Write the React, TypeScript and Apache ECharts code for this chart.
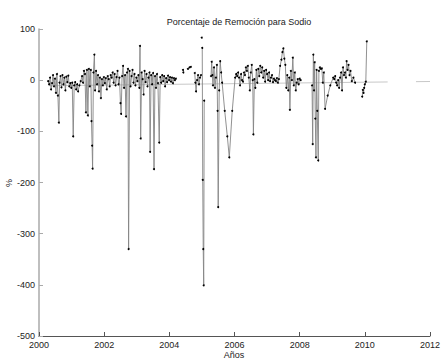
import React, { useEffect, useRef } from "react";
import * as echarts from "echarts";

const titulo = "Porcentaje de Remoción para Sodio";
const nombreX = "Años";
const nombreY = "%";
const xTicks = [2000, 2012, 2];
const yTicks = [-500, 100, 100];

// [año decimal, % remoción]  (null = sin dato)
const muestras: [number, number | null][] = [
  [2000.28, -2], [2000.31, -8], [2000.34, 5], [2000.37, -18], [2000.40, -6], [2000.43, 10], [2000.46, -12], [2000.49, 3],
  [2000.52, -25], [2000.55, 12], [2000.58, -30], [2000.61, -83], [2000.63, -5], [2000.66, 8], [2000.69, -14], [2000.72, 10],
  [2000.75, -8], [2000.78, 5], [2000.81, -20], [2000.84, 7], [2000.87, -4], [2000.90, 9], [2000.93, -12], [2000.96, -6],
  [2000.99, -15], [2001.02, -5], [2001.05, -110], [2001.08, -10], [2001.11, -4], [2001.14, -18], [2001.17, -8], [2001.20, -22],
  [2001.24, -10], [2001.28, -2], [2001.32, 8], [2001.35, -5], [2001.38, 18], [2001.41, 12], [2001.44, -63], [2001.47, 20],
  [2001.50, -69], [2001.53, 22], [2001.56, -12], [2001.59, 20], [2001.61, -80], [2001.63, -128], [2001.645, -173], [2001.67, 15],
  [2001.70, 50], [2001.72, -20], [2001.75, 18], [2001.78, -8], [2001.81, 10], [2001.84, -22], [2001.87, 5], [2001.90, -35],
  [2001.93, 2], [2001.96, -10], [2001.99, 6], [2002.02, -6], [2002.05, 4], [2002.08, -18], [2002.11, 8], [2002.14, 2],
  [2002.17, -12], [2002.20, 10], [2002.23, 5], [2002.26, 15], [2002.29, -5], [2002.32, 12], [2002.35, -10], [2002.38, 6],
  [2002.41, 18], [2002.44, -8], [2002.47, 5], [2002.50, -45], [2002.52, -66], [2002.55, 8], [2002.58, 28], [2002.61, -15],
  [2002.64, 10], [2002.67, -71], [2002.70, 15], [2002.73, 22], [2002.75, -330], [2002.78, 18], [2002.81, -12], [2002.84, 8],
  [2002.87, 20], [2002.90, -5], [2002.93, 12], [2002.96, -10], [2002.99, 5], [2003.02, -2], [2003.05, 10], [2003.08, -15],
  [2003.10, 67], [2003.12, -114], [2003.15, 15], [2003.18, 2], [2003.21, -28], [2003.24, 18], [2003.27, -4], [2003.30, 12],
  [2003.33, -12], [2003.36, 5], [2003.39, 15], [2003.41, -140], [2003.44, 10], [2003.47, -8], [2003.50, 14], [2003.53, -174],
  [2003.56, 8], [2003.59, -15], [2003.62, 12], [2003.65, -6], [2003.69, -122], [2003.72, 6], [2003.75, -5], [2003.78, 10],
  [2003.81, -2], [2003.84, 8], [2003.87, -12], [2003.90, 4], [2003.93, -4], [2003.96, 9], [2003.99, 0], [2004.02, 6],
  [2004.05, -3], [2004.08, 5], [2004.11, -6], [2004.14, 4], [2004.17, 0], [2004.20, 3], [2004.30, null],
  [2004.42, 20], [2004.43, 15], [2004.50, null], [2004.57, 22], [2004.62, 25], [2004.66, 26], [2004.70, null],
  [2004.78, 14], [2004.80, -5], [2004.82, -22], [2004.85, 0], [2004.88, 10], [2004.91, -8], [2004.94, 5], [2004.97, 10],
  [2004.985, null], [2004.995, 83], [2005.0, null],
  [2005.01, 63], [2005.025, -195], [2005.04, -330], [2005.055, -401], [2005.07, -40], [2005.15, null],
  [2005.28, 8], [2005.30, 36], [2005.32, 10], [2005.34, -10], [2005.37, 25], [2005.40, -15], [2005.43, 5], [2005.46, 30],
  [2005.48, -60], [2005.50, -248], [2005.53, -20], [2005.56, 37], [2005.59, 15], [2005.62, -5], [2005.70, -60], [2005.78, -110],
  [2005.84, -151], [2005.93, -60], [2006.02, 5], [2006.05, 12], [2006.08, 8], [2006.11, 15], [2006.14, 5], [2006.17, -10],
  [2006.20, 12], [2006.23, 0], [2006.26, -3], [2006.29, 15], [2006.32, 10], [2006.35, 25], [2006.38, 18], [2006.41, 28],
  [2006.44, 5], [2006.47, -20], [2006.50, 15], [2006.53, 30], [2006.56, 0], [2006.58, -106], [2006.61, 2], [2006.64, -15],
  [2006.67, 20], [2006.70, -5], [2006.73, 22], [2006.76, 8], [2006.79, 28], [2006.82, 15], [2006.85, 25], [2006.88, 5],
  [2006.91, 18], [2006.94, -3], [2006.97, 20], [2007.00, 12], [2007.03, 0], [2007.06, 15], [2007.09, -2], [2007.12, 5],
  [2007.15, 10], [2007.18, -4], [2007.21, 3], [2007.24, 0], [2007.27, -2], [2007.30, 4], [2007.33, -5], [2007.36, 2],
  [2007.40, 28], [2007.44, 40], [2007.47, 55], [2007.50, 62], [2007.53, 42], [2007.56, 30], [2007.59, -15], [2007.62, 10],
  [2007.65, -20], [2007.68, 5], [2007.70, -58], [2007.73, 18], [2007.76, 0], [2007.79, 44], [2007.82, -10], [2007.85, 15],
  [2007.88, -20], [2007.91, -5], [2007.94, 2], [2007.97, -8], [2008.00, 3], [2008.03, 0], [2008.15, null],
  [2008.38, -10], [2008.40, -125], [2008.42, 50], [2008.44, -20], [2008.46, 35], [2008.48, -75], [2008.50, -151], [2008.52, 20],
  [2008.54, -60], [2008.57, -157], [2008.59, 18], [2008.62, 25], [2008.65, 22], [2008.68, 23], [2008.71, -5], [2008.74, 15],
  [2008.78, -56], [2008.86, -30], [2008.94, -10], [2009.03, 5], [2009.06, 2], [2009.09, 8], [2009.12, -5], [2009.15, -10],
  [2009.18, 0], [2009.21, -15], [2009.24, 5], [2009.27, 15], [2009.30, -20], [2009.33, 25], [2009.36, 10], [2009.39, 15],
  [2009.42, 5], [2009.44, 37], [2009.47, 20], [2009.50, 30], [2009.53, 10], [2009.56, 18], [2009.60, -2], [2009.65, 5],
  [2009.70, -5], [2009.80, null],
  [2009.92, -32], [2009.94, -19], [2009.96, -25], [2009.98, -15], [2010.00, -8], [2010.03, -3], [2010.06, 76],
];

// línea de tendencia
const tendencia: [number, number | null][] = [
  [2000.3, -10.8], [2010.7, -3.5], [2010.71, null], [2011.57, -2.9], [2012.0, -2.6],
];

const FONT = "'Liberation Sans', Arial, sans-serif";

export default function App() {
  const ref = useRef<HTMLDivElement>(null);
  useEffect(() => {
    document.body.style.margin = "0";
    const chart = echarts.init(ref.current!, null, { renderer: "svg" });
    const toData = (arr: [number, number | null][]) =>
      arr.map(([x, y]) => [x, y === null ? "-" : y]);
    chart.setOption({
      animation: false,
      backgroundColor: "#ffffff",
      textStyle: { fontFamily: FONT },
      title: {
        text: titulo,
        left: 234,
        top: 12,
        textAlign: "center",
        textStyle: { fontSize: 9, fontWeight: "normal", color: "#222", fontFamily: FONT },
      },
      graphic: [
        {
          type: "text",
          x: 234,
          y: 355,
          style: {
            text: nombreX,
            fontSize: 9,
            fontFamily: FONT,
            fill: "#222",
            align: "center",
            verticalAlign: "middle",
          },
        },
        {
          type: "text",
          x: 9,
          y: 183,
          rotation: Math.PI / 2,
          style: {
            text: nombreY,
            fontSize: 9,
            fontFamily: FONT,
            fill: "#222",
            align: "center",
            verticalAlign: "middle",
          },
        },
      ],
      grid: { left: 39, right: 13, top: 29, bottom: 24, outerBoundsMode: "none", containLabel: false },
      xAxis: {
        type: "value",
        min: xTicks[0],
        max: xTicks[1],
        interval: xTicks[2],
        axisLine: { onZero: false, lineStyle: { color: "#555", width: 1 } },
        axisTick: { inside: true, length: 4, lineStyle: { color: "#555" } },
        axisLabel: {
          fontSize: 9,
          color: "#222",
          margin: 4,
          fontFamily: FONT,
          formatter: (v: number) => String(v),
        },
        splitLine: { show: false },
      },
      yAxis: {
        type: "value",
        min: yTicks[0],
        max: yTicks[1],
        interval: yTicks[2],
        axisLine: { show: true, onZero: false, lineStyle: { color: "#aaa", width: 1.5 } },
        axisTick: { show: true, inside: true, length: 4, lineStyle: { color: "#aaa" } },
        axisLabel: { fontSize: 9, color: "#222", margin: 4, fontFamily: FONT },
        splitLine: { show: false },
      },
      series: [
        {
          type: "line",
          data: toData(tendencia),
          showSymbol: false,
          symbol: "none",
          lineStyle: { color: "#c8c8c8", width: 1 },
          z: 1,
          silent: true,
        },
        {
          type: "line",
          data: toData(muestras),
          connectNulls: false,
          symbol: "circle",
          symbolSize: 2,
          showAllSymbol: true,
          itemStyle: { color: "#000" },
          lineStyle: { color: "#858585", width: 0.9 },
          z: 2,
        },
      ],
    });
    return () => chart.dispose();
  }, []);
  return (
    <div
      ref={ref}
      style={{ position: "absolute", left: 0, top: 0, width: 443, height: 360 }}
    />
  );
}
